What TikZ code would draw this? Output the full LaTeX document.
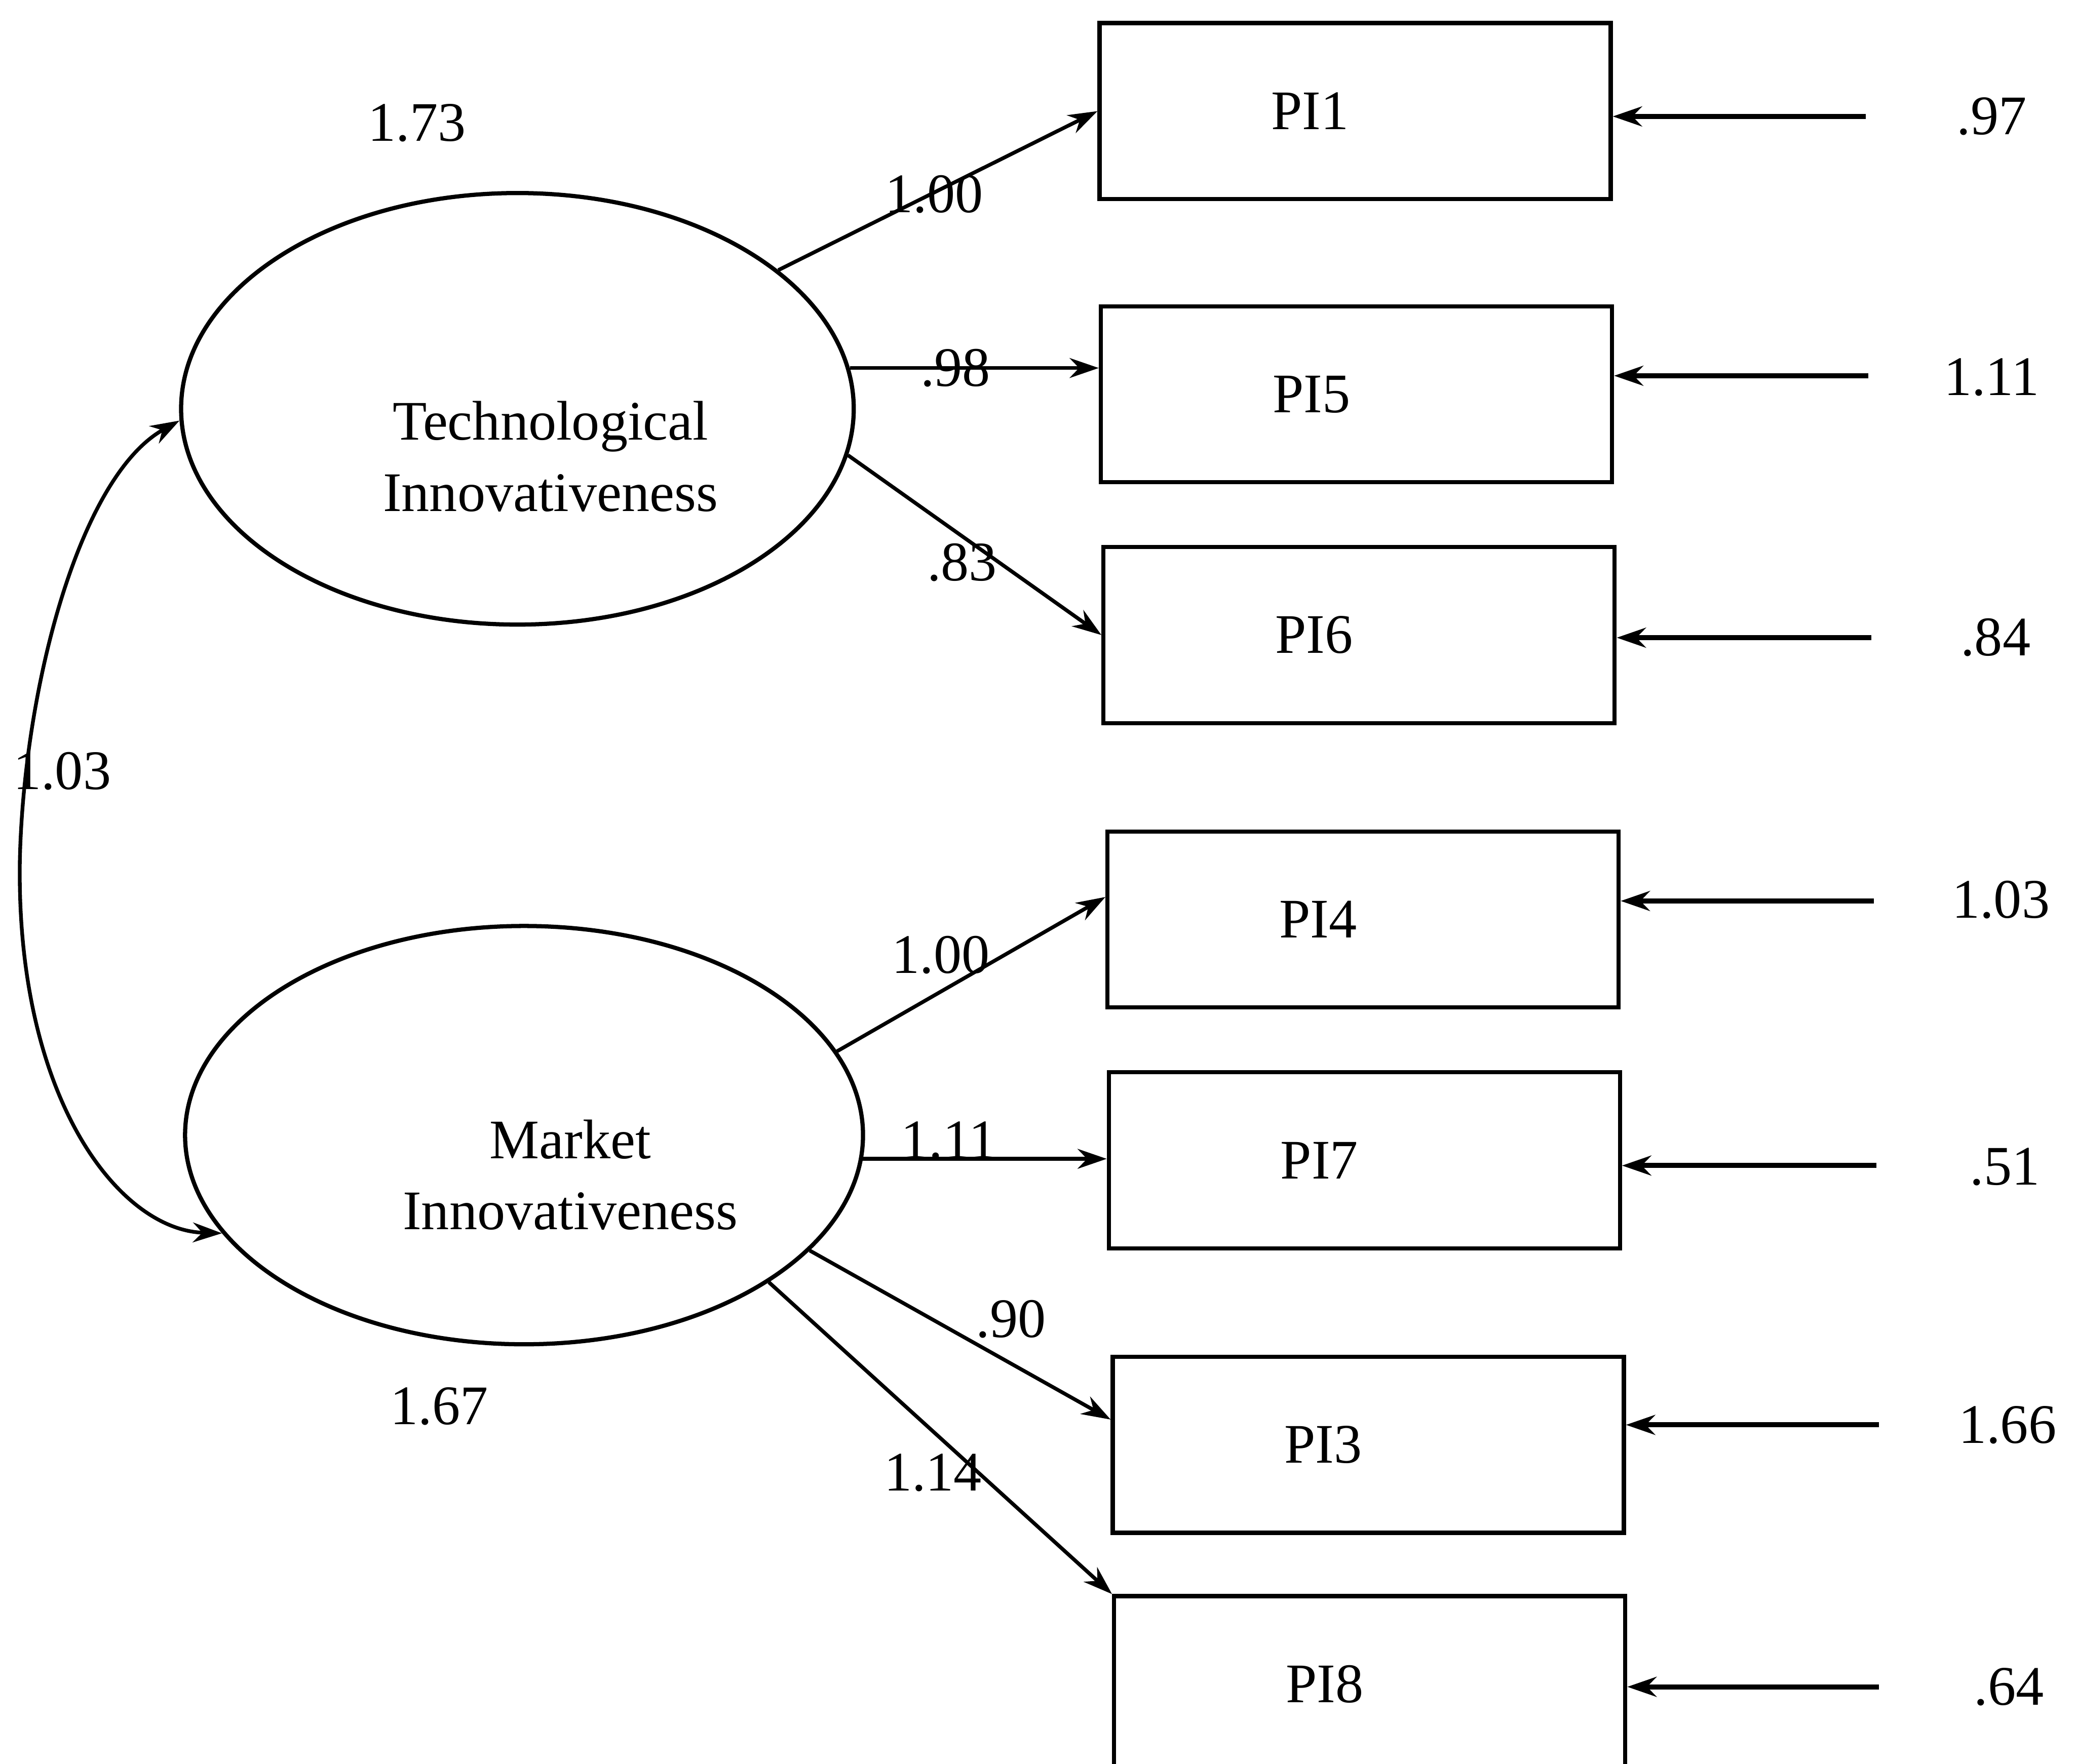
\documentclass[tikz,border=0pt]{standalone}
\usepackage{fontspec}
\setmainfont{Liberation Serif}
\usetikzlibrary{arrows.meta,shapes.geometric}
\newcommand{\boxtxt}[1]{#1\hspace*{0.68cm}}
\begin{document}
\begin{tikzpicture}[x=0.01cm,y=-0.01cm,
 latent/.style={draw,ellipse,line width=0.9pt,inner sep=0pt},
 obs/.style={draw,rectangle,line width=0.9pt,minimum width=3.86cm,minimum height=1.33cm,inner sep=0pt,font=\fontsize{12}{14}\selectfont},
 num/.style={font=\fontsize{12}{15.3}\selectfont,inner sep=0pt},
 load/.style={-{Stealth[length=0.22cm,width=0.15cm]},line width=0.8pt},
 err/.style={-{Stealth[length=0.22cm,width=0.15cm]},line width=1.1pt},
 cov/.style={{Stealth[length=0.22cm,width=0.15cm]}-{Stealth[length=0.22cm,width=0.15cm]},line width=0.8pt},
]
\useasboundingbox (0,0) rectangle (1568,1333);
% latent variables
\node[latent,minimum width=5.08cm,minimum height=3.26cm] (T) at (391,309) {};
\node[num,align=center] (Tl) at (416,345) {Technological\\Innovativeness};
\node[latent,minimum width=5.12cm,minimum height=3.16cm] (M) at (396,858) {};
\node[num,align=center] (Ml) at (431,888) {Market\\Innovativeness};
% observed
\node[obs] (P1) at (1024,84) {\boxtxt{PI1}};
\node[obs] (P5) at (1025,298) {\boxtxt{PI5}};
\node[obs] (P6) at (1027,480) {\boxtxt{PI6}};
\node[obs] (P4) at (1030,695) {\boxtxt{PI4}};
\node[obs] (P7) at (1031,877) {\boxtxt{PI7}};
\node[obs] (P3) at (1034,1092) {\boxtxt{PI3}};
\node[obs] (P8) at (1035,1273) {\boxtxt{PI8}};
% error terms
\coordinate (e1) at (1410,88);
\coordinate (e5) at (1412,284);
\coordinate (e6) at (1414,482);
\coordinate (e4) at (1416,681);
\coordinate (e7) at (1418,881);
\coordinate (e3) at (1420,1077);
\coordinate (e8) at (1420,1275);
\draw[err] (e1) -- (e1 -| P1.east);
\draw[err] (e5) -- (e5 -| P5.east);
\draw[err] (e6) -- (e6 -| P6.east);
\draw[err] (e4) -- (e4 -| P4.east);
\draw[err] (e7) -- (e7 -| P7.east);
\draw[err] (e3) -- (e3 -| P3.east);
\draw[err] (e8) -- (e8 -| P8.east);
\node[num] (v1) at (1505,88) {.97};
\node[num] (v5) at (1505,285) {1.11};
\node[num] (v6) at (1508,482) {.84};
\node[num] (v4) at (1512,680) {1.03};
\node[num] (v7) at (1515,882) {.51};
\node[num] (v3) at (1517,1077) {1.66};
\node[num] (v8) at (1518,1275) {.64};
% loadings
\draw[load] (T.28) -- (P1.west);
\draw[load] (T.7) -- (T.7 -| P5.west);
\draw[load] (T.-8) -- (P6.west);
\draw[load] (M.15) -- ([yshift=0.17cm]P4.west);
\draw[load] (M.-4) -- (M.-4 -| P7.west);
\draw[load] (M.-22) -- ([yshift=0.19cm]P3.west);
\draw[load] (M.-31) -- (P8.north west);
\node[num] (l1) at (706,147) {1.00};
\node[num] (l5) at (722,278) {.98};
\node[num] (l6) at (727,425) {.83};
\node[num] (l4) at (711,722) {1.00};
\node[num] (l7) at (717,862) {1.11};
\node[num] (l3) at (764,997) {.90};
\node[num] (l8) at (705,1113) {1.14};
% covariance
\draw[cov] (T.182) .. controls (60,360) and (18,520) .. (15,650) .. controls (12,830) and (90,930) .. (M.198);
\node[num] (c) at (47,583) {1.03};
% variances
\node[num] (vT) at (315,93) {1.73};
\node[num] (vM) at (332,1063) {1.67};
\end{tikzpicture}
\end{document}
